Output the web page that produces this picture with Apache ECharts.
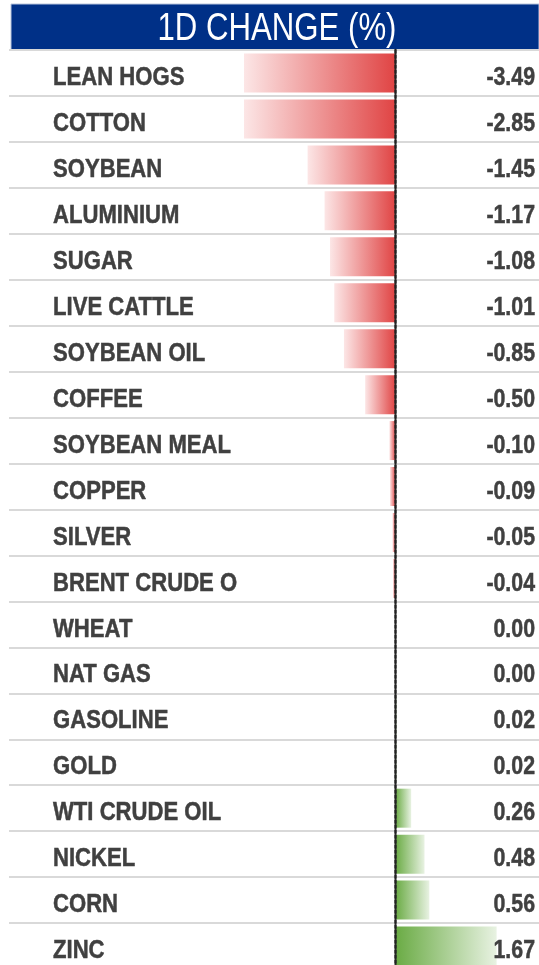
<!DOCTYPE html>
<html>
<head>
<meta charset="utf-8">
<script src="https://cdn.jsdelivr.net/npm/echarts@6/dist/echarts.min.js"></script>
<style>
  html, body { margin: 0; padding: 0; background: #fff; }
  #chart { width: 539px; height: 965px; }
</style>
</head>
<body>
<div id="chart"></div>
<script>
// commodities, top to bottom
var names = ['LEAN HOGS', 'COTTON', 'SOYBEAN', 'ALUMINIUM', 'SUGAR', 'LIVE CATTLE',
  'SOYBEAN OIL', 'COFFEE', 'SOYBEAN MEAL', 'COPPER', 'SILVER', 'BRENT CRUDE O',
  'WHEAT', 'NAT GAS', 'GASOLINE', 'GOLD', 'WTI CRUDE OIL', 'NICKEL', 'CORN', 'ZINC'];
var changes = [-3.49, -2.85, -1.45, -1.17, -1.08, -1.01, -0.85, -0.50, -0.10, -0.09,
  -0.05, -0.04, 0.00, 0.00, 0.02, 0.02, 0.26, 0.48, 0.56, 1.67];
var titleText = '1D CHANGE (%)';

var FONT = "'Liberation Sans', Arial, sans-serif";
var TEXT = '#404040';
// no Arial Narrow here, so squeeze Liberation Sans
var NARROW = 0.82;
var NAME_NARROW = 0.85;

var chart = echarts.init(document.getElementById('chart'), null, { renderer: 'canvas' });

// red fades out to the left, green fades out to the right
var redFill = new echarts.graphic.LinearGradient(0, 0, 1, 0, [
  { offset: 0, color: '#fce6e6' },
  { offset: 1, color: '#e04444' }
]);
var greenFill = new echarts.graphic.LinearGradient(0, 0, 1, 0, [
  { offset: 0, color: '#6aab44' },
  { offset: 1, color: '#e8f2e2' }
]);

var barData = changes.map(function (v) {
  return { value: v, itemStyle: { color: v < 0 ? redFill : greenFill } };
});

// row labels: name on the left, value on the right
function renderRow(params, api) {
  var i = params.dataIndex;
  var cs = params.coordSys;
  var y = api.coord([0, i])[1] + 5;
  var common = {
    fill: TEXT,
    fontFamily: FONT,
    fontWeight: 'bold',
    fontSize: 26,
    stroke: TEXT,
    lineWidth: 0.5,
    verticalAlign: 'middle',
    textVerticalAlign: 'middle'
  };
  return {
    type: 'group',
    children: [{
      type: 'text',
      x: cs.x + 44,
      y: y,
      scaleX: NAME_NARROW,
      style: Object.assign({ text: names[i], align: 'left', textAlign: 'left' }, common)
    }, {
      type: 'text',
      x: cs.x + cs.width - 4,
      y: y,
      scaleX: NARROW,
      style: Object.assign({ text: changes[i].toFixed(2), align: 'right', textAlign: 'right' }, common)
    }]
  };
}

var option = {
  animation: false,
  backgroundColor: '#fff',
  graphic: [{
    type: 'rect',
    z: -1,
    shape: { x: 11, y: 4, width: 528, height: 46 },
    style: { fill: '#003087', stroke: '#b8c4dc', lineWidth: 1 }
  }, {
    type: 'text',
    x: 277,
    y: 30,
    scaleX: NARROW,
    style: {
      text: titleText,
      fill: '#fff',
      fontFamily: FONT,
      fontWeight: 'normal',
      fontSize: 38,
      align: 'center',
      textAlign: 'center',
      verticalAlign: 'middle',
      textVerticalAlign: 'middle'
    }
  }],
  grid: [
    // bars
    { left: 244, top: 50, width: 295, height: 919, outerBoundsMode: 'none' },
    // full-width rows: names, values, separators
    { left: 9, top: 50, width: 530, height: 919, outerBoundsMode: 'none' }
  ],
  xAxis: [
    { gridIndex: 0, type: 'value', min: -2.5, max: 2.37, show: false },
    { gridIndex: 1, type: 'value', min: 0, max: 1, show: false }
  ],
  yAxis: [
    {
      gridIndex: 0,
      type: 'category',
      data: names,
      inverse: true,
      z: 5,
      axisLine: {
        show: true,
        onZero: true,
        lineStyle: { color: '#222', width: 2.5, type: [3, 2] }
      },
      axisTick: { show: false },
      axisLabel: { show: false },
      splitLine: { show: false }
    },
    {
      gridIndex: 1,
      type: 'category',
      data: names,
      inverse: true,
      axisLine: { show: false },
      axisTick: { show: false },
      axisLabel: { show: false },
      splitLine: {
        show: true,
        interval: 0,
        lineStyle: { color: '#d9d9d9', width: 2 }
      }
    }
  ],
  series: [{
    type: 'bar',
    xAxisIndex: 0,
    yAxisIndex: 0,
    data: barData,
    barWidth: 39,
    clip: true
  }, {
    type: 'custom',
    xAxisIndex: 1,
    yAxisIndex: 1,
    z: 6,
    data: names.map(function (n, i) { return [0, i]; }),
    renderItem: renderRow
  }]
};

chart.setOption(option);
</script>
</body>
</html>
